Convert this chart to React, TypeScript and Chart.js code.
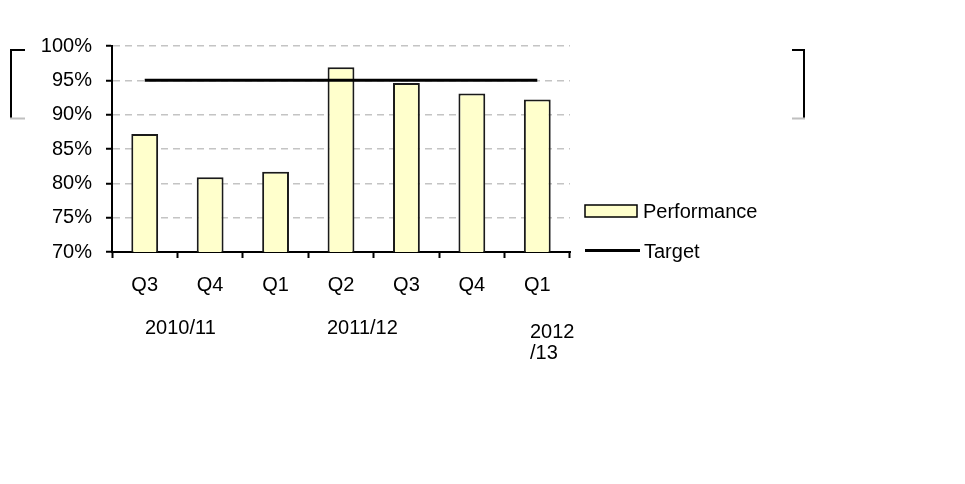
import React, { useEffect, useRef } from "react";
import { Chart, registerables } from "chart.js";

Chart.register(...registerables);

const categories = ["Q3", "Q4", "Q1", "Q2", "Q3", "Q4", "Q1"];
const performance = [87.2, 80.9, 81.7, 96.9, 94.6, 93.1, 92.2];
const target = [95, 95, 95, 95, 95, 95, 95];
const yMin = 70;
const yMax = 100;
const yStep = 5;
const seriesNames = ["Performance", "Target"];
const yearLabels = ["2010/11", "2011/12", "2012\n/13"];

const FONT = "Arial, 'Liberation Sans', sans-serif";

const decorPlugin = {
  id: "decor",
  afterDraw(chart: any) {
    const ctx = chart.ctx as CanvasRenderingContext2D;
    ctx.save();
    // frame brackets
    ctx.lineCap = "butt";
    ctx.lineJoin = "miter";
    ctx.lineWidth = 2;
    ctx.strokeStyle = "#000";
    ctx.beginPath();
    ctx.moveTo(25, 50);
    ctx.lineTo(11, 50);
    ctx.lineTo(11, 118);
    ctx.stroke();
    ctx.beginPath();
    ctx.moveTo(792, 50);
    ctx.lineTo(804, 50);
    ctx.lineTo(804, 118);
    ctx.stroke();
    ctx.strokeStyle = "#c0c0c0";
    ctx.beginPath();
    ctx.moveTo(10, 118.5);
    ctx.lineTo(25, 118.5);
    ctx.moveTo(792, 118.5);
    ctx.lineTo(805, 118.5);
    ctx.stroke();

    // legend
    const ds = chart.data.datasets;
    const perf = ds.find((d: any) => d.label === seriesNames[0]);
    const targ = ds.find((d: any) => d.label === seriesNames[1]);
    ctx.font = `20px ${FONT}`;
    ctx.textBaseline = "alphabetic";
    ctx.textAlign = "left";
    // Performance swatch
    ctx.fillStyle = perf.backgroundColor;
    ctx.fillRect(585, 205, 52, 12);
    ctx.lineWidth = 1.5;
    ctx.strokeStyle = "#000";
    ctx.strokeRect(585, 205, 52, 12);
    ctx.fillStyle = "#000";
    ctx.fillText(perf.label, 643, 217.5);
    // Target swatch
    ctx.lineWidth = 3;
    ctx.strokeStyle = targ.borderColor;
    ctx.beginPath();
    ctx.moveTo(585, 250.5);
    ctx.lineTo(640, 250.5);
    ctx.stroke();
    ctx.fillText(targ.label, 644, 258);

    // year annotations
    const pos = [
      { x: 145, y: 333.5 },
      { x: 327, y: 333.5 },
      { x: 530, y: 338 },
    ];
    yearLabels.forEach((t, i) => {
      t.split("\n").forEach((line, j) => {
        ctx.fillText(line, pos[i].x, pos[i].y + j * 20.5);
      });
    });
    ctx.restore();
  },
};

export default function App() {
  const ref = useRef<HTMLCanvasElement | null>(null);
  useEffect(() => {
    if (!ref.current) return;
    const chart = new Chart(ref.current, {
      type: "bar",
      data: {
        labels: categories,
        datasets: [
          {
            type: "bar",
            label: seriesNames[0],
            data: performance,
            backgroundColor: "#FFFFCC",
            borderColor: "#1a1a1a",
            borderWidth: 2,
            barPercentage: 0.41,
            categoryPercentage: 1.0,
            order: 1,
          },
          {
            type: "line",
            label: seriesNames[1],
            data: target,
            borderColor: "#000",
            borderWidth: 3,
            pointRadius: 0,
            fill: false,
            order: 0,
          } as any,
        ] as any,
      },
      options: {
        responsive: false,
        animation: false,
        layout: { padding: { top: 46, right: 395, bottom: 0, left: 0 } },
        plugins: {
          legend: { display: false },
          tooltip: { enabled: false },
        },
        scales: {
          x: {
            afterFit: (s: any) => {
              s.height = 232;
            },
            grid: {
              drawOnChartArea: false,
              drawTicks: true,
              tickLength: 6,
              tickColor: "#000",
              tickWidth: 2,
            },
            border: { display: true, color: "#000", width: 2 },
            ticks: {
              color: "#000",
              font: { family: FONT, size: 20 },
              padding: 15,
              maxRotation: 0,
              autoSkip: false,
            },
          },
          y: {
            min: yMin,
            max: yMax,
            afterFit: (s: any) => {
              s.width = 112;
            },
            grid: {
              color: "#c4c4c4",
              lineWidth: 1.5,
              drawTicks: true,
              tickLength: 6,
              tickColor: "#000",
              tickWidth: 2,
              tickBorderDash: [],
            } as any,
            border: { display: true, color: "#000", width: 2, dash: [7, 5] },
            ticks: {
              stepSize: yStep,
              color: "#000",
              font: { family: FONT, size: 20 },
              padding: 14,
              callback: (v: any) => `${v}%`,
            },
          },
        },
      },
      plugins: [decorPlugin],
    });
    return () => chart.destroy();
  }, []);
  return (
    <div style={{ position: "absolute", left: 0, top: 0, width: 965, height: 484, background: "#fff" }}>
      <canvas ref={ref} width={965} height={484} style={{ display: "block" }} />
    </div>
  );
}
